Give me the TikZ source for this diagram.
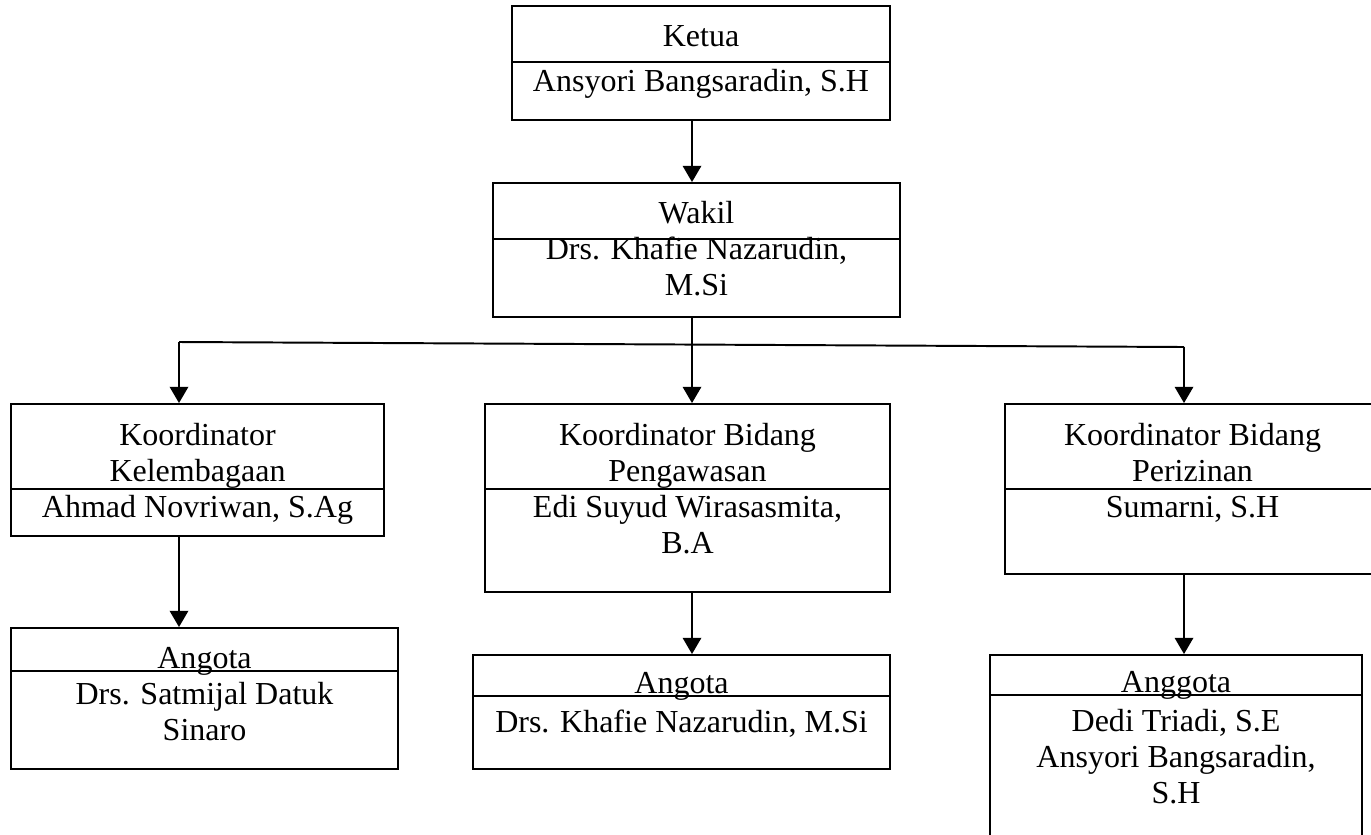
\documentclass[tikz,border=0pt]{standalone}
\usepackage{fontspec}
\setmainfont{Liberation Serif}
\usepackage{tikz}
\usetikzlibrary{calc}
\usetikzlibrary{arrows.meta}

\tikzset{
  box/.style={draw, line width=0.75pt, inner sep=0pt},
  lbl/.style={inner sep=0pt, anchor=base, align=center, font=\fontsize{12.3}{13.83}\selectfont},
  arr/.style={line width=0.75pt, -{Triangle[width=0.25cm,length=0.22cm]}}
}

\begin{document}
\begin{tikzpicture}[x=0.0135cm,y=-0.0135cm]
\useasboundingbox (0,0) rectangle (1371,834);

%Ketua
\node[box, minimum width=5.103cm, minimum height=1.539cm] (ketua) at (701,63) {};
\node[lbl] (ketuaT) at (701,91) {Ketua\\[0.11cm]Ansyori Bangsaradin, S.H};

%Wakil
\node[box, minimum width=5.4945cm, minimum height=1.809cm] (wakil) at (696.5,250) {};
\node[lbl] (wakilT) at (696.5,295) {Wakil\\Drs. Khafie Nazarudin,\\M.Si};

%Koordinator
\node[box, minimum width=5.0355cm, minimum height=1.782cm] (kel) at (197.5,470) {};
\node[lbl] (kelT) at (197.5,517) {Koordinator\\Kelembagaan\\Ahmad Novriwan, S.Ag};
\node[box, minimum width=5.4675cm, minimum height=2.538cm] (peng) at (687.5,498) {};
\node[lbl] (pengT) at (687.5,553) {Koordinator Bidang\\Pengawasan\\Edi Suyud Wirasasmita,\\B.A};
\node[box, minimum width=5.0625cm, minimum height=2.295cm] (periz) at (1192.5,489) {};
\node[lbl] (perizT) at (1192.5,517) {Koordinator Bidang\\Perizinan\\Sumarni, S.H};

%Anggota
\node[box, minimum width=5.2245cm, minimum height=1.9035cm] (angL) at (204.5,698.5) {};
\node[lbl] (angLT) at (204.5,740) {Angota\\Drs. Satmijal Datuk\\Sinaro};
\node[box, minimum width=5.6295cm, minimum height=1.539cm] (angM) at (681.5,712) {};
\node[lbl] (angMT) at (681.5,732) {Angota\\[0.04cm]Drs. Khafie Nazarudin, M.Si};
\node[box, minimum width=5.022cm, minimum height=2.6325cm] (angR) at (1176,752.5) {};
\node[lbl] (angRT) at (1176,803) {Anggota\\[0.04cm]Dedi Triadi, S.E\\Ansyori Bangsaradin,\\S.H};

%dividers
\foreach \b/\y in {ketua/62, wakil/239, kel/489, peng/489, periz/489, angL/671, angM/696, angR/695}
  \draw[line width=0.75pt] (\b.west |- 0,\y) -- (\b.east |- 0,\y);

%lines
\coordinate (colM) at (692,0);
\coordinate (jl) at (179,342);
\coordinate (jr) at (1184,347);
\draw[arr] (ketua.south -| colM) -- (wakil.north -| colM);
\draw[arr] (wakil.south -| colM) -- (peng.north -| colM);
\draw[line width=0.75pt] (jl) -- (jr);
\draw[arr] (jl) -- (kel.north -| jl);
\draw[arr] (jr) -- (periz.north -| jr);
\draw[arr] (kel.south -| jl) -- (angL.north -| jl);
\draw[arr] (peng.south -| colM) -- (angM.north -| colM);
\draw[arr] (periz.south -| jr) -- (angR.north -| jr);

\end{tikzpicture}
\end{document}
